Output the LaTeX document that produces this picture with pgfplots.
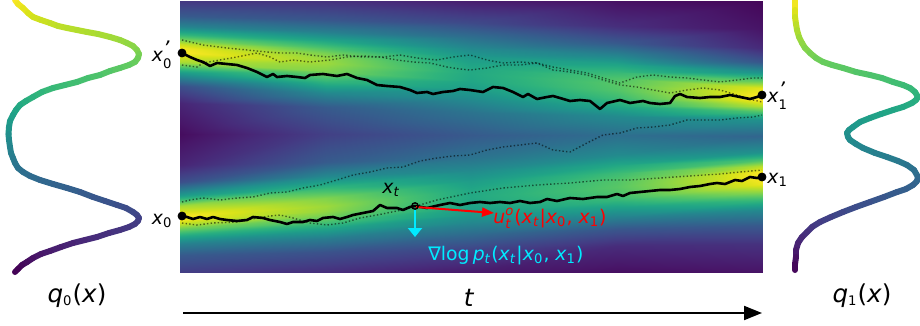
\documentclass[border=0pt]{standalone}
\usepackage{pgfplots}
\pgfplotsset{compat=1.18}
\usepackage{fontspec}
\setmainfont{DejaVu Sans}
\usetikzlibrary{arrows.meta}
\definecolor{mycyan}{RGB}{0,235,255}
\newcommand{\ms}[1]{\mbox{\fontsize{6.6}{8}\selectfont #1}}
\newcommand{\sub}[1]{$_{\ms{#1}}$}
\newcommand{\subsup}[2]{$^{\ms{#2}}_{\ms{#1}}$}
\newcommand{\subpr}[1]{$^{\mbox{\fontsize{10}{10}\selectfont\itshape\raisebox{-0.55ex}{\char"0027}}}_{\ms{#1}}$}
\newcommand{\vx}{\textit{x}}
\begin{document}
\begin{tikzpicture}
\begin{axis}[
  width=460pt, height=163pt, scale only axis,
  xmin=0, xmax=920, ymin=0, ymax=326, y dir=reverse,
  hide axis, clip=false,
  colormap/viridis, point meta min=0, point meta max=1,
]
% heatmap mesh: columns t=0,0.25,0.5,0.75,1 ; rows follow the two bands
\addplot[surf, shader=interp, mesh/cols=25, point meta=explicit] table[x=x, y=y, meta=c] {
x y c
180 1 0.16
180 16.3 0.28
180 26.5 0.44
180 34.15 0.642
180 39.76 0.808
180 44.35 0.919
180 48.43 0.982
180 52 1.0
180 61.84 0.871
180 73.32 0.538
180 86.44 0.242
180 102.84 0.102
180 134 0.03
180 165.16 0.102
180 181.56 0.242
180 194.68 0.538
180 206.16 0.871
180 216 1.0
180 219.92 0.978
180 224.4 0.904
180 229.44 0.774
180 235.6 0.60
180 244 0.43
180 255.2 0.28
180 272 0.18
325.5 1 0.14
325.5 19.55 0.27
325.5 31.85 0.434
325.5 41.15 0.600
325.5 47.95 0.720
325.5 53.49 0.798
325.5 58.43 0.842
325.5 62.75 0.854
325.5 71.36 0.809
325.5 81.41 0.664
325.5 92.89 0.465
325.5 107.24 0.285
325.5 134.5 0.188
325.5 161.76 0.285
325.5 176.11 0.465
325.5 187.59 0.664
325.5 197.64 0.809
325.5 206.25 0.854
325.5 210.85 0.839
325.5 216.11 0.791
325.5 222.03 0.705
325.5 229.26 0.574
325.5 239.13 0.410
325.5 252.28 0.25
325.5 272 0.13
471 1 0.079
471 22.75 0.222
471 37.25 0.361
471 48.13 0.468
471 56.1 0.534
471 62.63 0.574
471 68.43 0.595
471 73.5 0.602
471 80.88 0.591
471 89.49 0.551
471 99.33 0.479
471 111.63 0.380
471 135 0.279
471 158.37 0.380
471 170.67 0.479
471 180.51 0.551
471 189.12 0.591
471 196.5 0.602
471 201.79 0.593
471 207.83 0.571
471 214.62 0.529
471 222.93 0.458
471 234.25 0.346
471 249.35 0.204
471 272 0.067
616.5 1 0.041
616.5 25.98 0.130
616.5 42.63 0.279
616.5 55.11 0.448
616.5 64.27 0.578
616.5 71.76 0.668
616.5 78.42 0.719
616.5 84.25 0.738
616.5 90.4 0.728
616.5 97.58 0.681
616.5 105.78 0.596
616.5 116.03 0.478
616.5 135.5 0.360
616.5 154.98 0.478
616.5 165.23 0.596
616.5 173.43 0.681
616.5 180.6 0.728
616.5 186.75 0.738
616.5 192.72 0.719
616.5 199.54 0.665
616.5 207.21 0.571
616.5 216.59 0.438
616.5 229.38 0.268
616.5 246.43 0.122
616.5 272 0.037
762 1 0.013
762 29.2 0.052
762 48 0.119
762 62.1 0.267
762 72.44 0.509
762 80.9 0.766
762 88.42 0.957
762 95 1.0
762 99.92 0.997
762 105.66 0.891
762 112.22 0.716
762 120.42 0.502
762 136 0.324
762 151.58 0.502
762 159.78 0.716
762 166.34 0.891
762 172.08 0.997
762 177 1.0
762 183.65 0.97
762 191.25 0.85
762 199.8 0.67
762 210.25 0.47
762 224.5 0.28
762 243.5 0.14
762 272 0.05
};
% q0 curve
\addplot[mesh, line width=3pt, line cap=round, line join=round, point meta=explicit] table[x=x, y=y, meta expr=1-\thisrow{y}/272] {
x y
15 0
18 4
23 8
28 13
33 17
41 20
50 23
58 26
67 28
77 30
87 32
98 34
110 37
120 40
127 43
133 46
137 50
139 54
138 58
135 62
129 65
120 68
110 71
100 75
88 78
77 82
65 85
53 88
42 92
33 97
26 101
20 105
16 110
13 115
10 121
9 127
8.5 134
9 140
10 147
11 153
13 158
15 163
18 168
23 172
30 176
40 180
53 184
67 188
80 192
93 197
105 201
117 205
126 208
133 212
137 215
139 218
138 221
135 224
129 227
120 230
109 233
97 237
85 240
73 243
61 247
50 251
41 254
33 258
27 262
22 265
18 269
15 272
};
% q1 curve
\addplot[mesh, line width=3pt, line cap=round, line join=round, point meta=explicit] table[x=x, y=y, meta expr=1-\thisrow{y}/272] {
x y
795 0
795 10
795 17
796 24
797 30
799 37
802 43
805 48
810 53
816 58
823 62
832 65
843 68
856 72
870 75
882 78
893 82
903 85
910 88
915 92
918 97
916 100
912 103
903 107
893 110
881 114
870 118
860 122
853 127
849 130
847 133
848 137
850 140
856 144
863 148
875 153
887 157
898 161
907 165
914 170
918 177
917 181
913 185
906 189
897 192
884 197
870 202
856 207
843 212
831 217
820 222
812 227
807 232
802 237
798 243
796 250
796 257
795 264
795 270
};
% dotted sample paths
\pgfplotsset{dotpath/.style={black, opacity=0.55, line width=0.7pt, dash pattern=on 0.7pt off 1.1pt}}
\addplot[dotpath] coordinates {
(182,40) (203,45) (227,48) (247,50) (267,52) (280,53) (297,53) (310,55) (327,57) (343,55) (363,57) (383,57) (400,55) (417,58) (437,60) (453,57) (470,55) (487,60) (503,63) (520,62) (537,63) (553,67) (570,70) (587,73) (603,78) (620,83) (637,77) (653,75) (670,77) (687,78) (703,80) (720,82) (737,80) (753,78) (762,78)};
\addplot[dotpath] coordinates {
(182,65) (197,67) (203,63) (220,60) (237,57) (257,53) (270,57) (280,62) (293,60) (310,62) (330,60) (347,57) (363,56) (380,57) (397,60) (413,62) (430,63) (447,67) (460,69) (470,70) (487,68) (503,65) (520,65) (537,63) (553,70) (570,72) (587,75) (603,80) (620,85) (637,87) (653,90) (670,93) (687,90) (703,88) (720,90) (737,95) (753,100) (762,102)};
\addplot[dotpath] coordinates {
(182,202) (190,200) (203,198) (220,200) (237,198) (253,197) (270,193) (287,192) (303,188) (320,185) (337,180) (353,175) (370,172) (387,168) (403,167) (420,161) (437,158) (453,156) (470,155) (487,150) (503,147) (520,145) (537,143) (553,150) (570,152) (587,143) (603,135) (620,133) (637,128) (653,127) (670,125) (687,120) (703,120) (720,120) (737,118) (753,117) (762,115)};
\addplot[dotpath] coordinates {
(182,223) (197,225) (213,223) (237,222) (257,218) (270,216) (280,215) (293,218) (310,223) (327,225) (343,223) (360,218) (377,215) (397,211) (413,207) (430,202) (437,200) (470,193) (503,188) (537,185) (570,183) (603,180) (630,180) (660,178) (690,176) (720,174) (740,172) (762,170)};
% solid sample paths
\addplot[black, line width=1.3pt, line join=round] coordinates {
(182,53) (190,57) (197,60) (203,62) (210,66) (217,63) (227,64) (237,65) (247,68) (257,72) (267,77) (273,74) (277,77) (287,76) (297,77) (305,78) (310,75) (323,74) (337,76) (347,74) (357,78) (367,80) (377,85) (387,86) (400,87) (410,90) (417,93) (427,92) (433,94) (443,92) (453,91) (460,89) (470,90) (483,92) (493,87) (503,88) (513,92) (523,97) (528,94) (537,99) (547,97) (553,96) (560,98) (570,101) (580,100) (590,101) (600,109) (607,103) (620,100) (630,103) (643,101) (650,103) (660,104) (670,103) (675,96) (680,94) (687,97) (700,98) (710,97) (720,97) (730,95) (740,97) (750,99) (757,97) (762,95)};
\addplot[black, line width=1.3pt, line join=round] coordinates {
(182,216) (187,217) (193,219) (200,217) (207,219) (213,217) (220,219) (227,220) (237,221) (247,220) (253,217) (263,218) (270,220) (280,222) (287,224) (293,222) (303,222) (310,220) (317,221) (323,218) (333,217) (340,219) (347,217) (353,215) (363,213) (373,211) (380,205) (387,208) (397,208) (403,210) (410,207) (415,206) (427,208) (440,205) (450,203) (460,205) (470,203) (480,202) (490,203) (500,202) (510,203) (520,201) (530,203) (540,202) (547,199) (557,201) (570,198) (583,199) (597,197) (607,197) (617,194) (623,196) (630,193) (640,192) (650,191) (660,190) (670,190) (680,189) (690,187) (700,186) (710,184) (717,183) (725,184) (735,180) (742,181) (750,177) (757,178) (762,177)};
% end points
\addplot[only marks, mark=*, mark size=2pt, black] coordinates {(182,53) (762,95) (182,216) (762,177)};
\addplot[only marks, mark=o, mark size=1.6pt, black, line width=0.7pt] coordinates {(415,206)};
% arrows
\addplot[red, line width=1pt, -{Triangle[length=6pt,width=4.5pt]}] coordinates {(416,207) (494,213)};
\addplot[mycyan, line width=1pt, -{Triangle[length=4.5pt,width=7pt]}] coordinates {(415,208) (415,237)};
\addplot[black, line width=1pt, -{Triangle[length=9pt,width=7pt]}] coordinates {(183,313) (762,313)};
% labels
\begin{scope}[every node/.style={font=\fontsize{9.4}{11}\selectfont, inner sep=0pt}]
\node[anchor=base east] at (axis cs:173,62) {\vx\subpr{0}};
\node[anchor=base east] at (axis cs:173,224) {\vx\sub{0}};
\node[anchor=base west] at (axis cs:767,103) {\vx\subpr{1}};
\node[anchor=base west] at (axis cs:767,183) {\vx\sub{1}};
\node[anchor=base west] at (axis cs:382,193) {\vx\sub{\textit{t}}};
\node[anchor=base west, text=red] at (axis cs:493,223) {\textit{u}\subsup{\textit{t}}{\textit{o}}(\vx\sub{\textit{t}}|\vx\sub{0}, \vx\sub{1})};
\node[anchor=base west, text=mycyan] at (axis cs:428,260) {∇log\,\textit{p}\sub{\textit{t}}(\vx\sub{\textit{t}}|\vx\sub{0}, \vx\sub{1})};
\node[anchor=base, font=\fontsize{12.3}{14}\selectfont] at (axis cs:77,302) {\textit{q}\sub{0}(\vx)};
\node[anchor=base, font=\fontsize{12.3}{14}\selectfont] at (axis cs:862,302) {\textit{q}\sub{1}(\vx)};
\node[anchor=base, font=\fontsize{12.3}{14}\selectfont] at (axis cs:469,306) {\textit{t}};
\end{scope}
\end{axis}
\pgfresetboundingbox
\path (current axis.south west) rectangle (current axis.north east);
\end{tikzpicture}
\end{document}
